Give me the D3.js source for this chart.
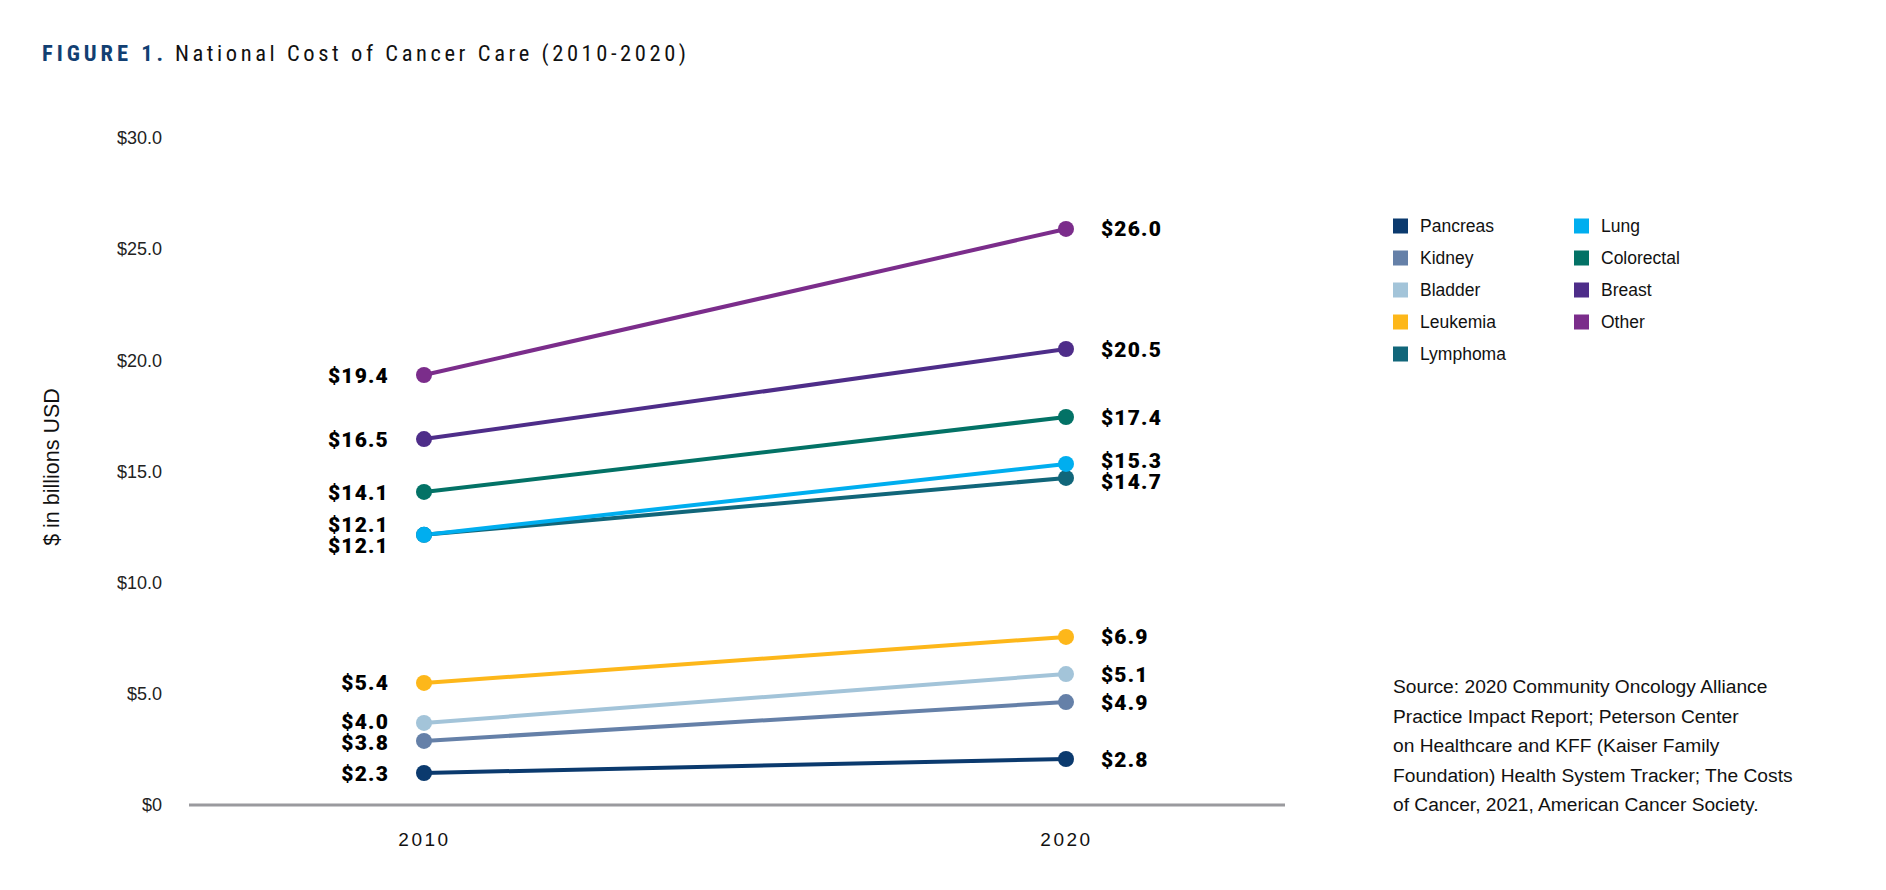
<!DOCTYPE html>
<html>
<head>
<meta charset="utf-8">
<script src="https://cdn.jsdelivr.net/npm/d3@7"></script>
<style>
  body { margin: 0; background: #fff; }
  svg { display: block; }
</style>
</head>
<body>
<div id="chart"></div>
<script>
// data (plotted positions) and the printed labels
const series = ["Pancreas", "Kidney", "Bladder", "Leukemia", "Lymphoma", "Lung", "Colorectal", "Breast", "Other"];
const years = [2010, 2020];
const values2010 = [1.44, 2.88, 3.69, 5.49, 12.15, 12.15, 14.08, 16.46, 19.34];
const values2020 = [2.07, 4.63, 5.89, 7.56, 14.71, 15.34, 17.45, 20.51, 25.91];
const labels2010 = ["$2.3", "$3.8", "$4.0", "$5.4", "$12.1", "$12.1", "$14.1", "$16.5", "$19.4"];
const labels2020 = ["$2.8", "$4.9", "$5.1", "$6.9", "$14.7", "$15.3", "$17.4", "$20.5", "$26.0"];
const colors = ["#0b3a6e", "#6580a8", "#a3c4d9", "#fdb71a", "#11667a", "#00aeef", "#037266", "#4e2d89", "#7b2d8b"];
const yTicks = [0, 5, 10, 15, 20, 25, 30];
const sourceLines = [
    "Source: 2020 Community Oncology Alliance",
    "Practice Impact Report; Peterson Center",
    "on Healthcare and KFF (Kaiser Family",
    "Foundation) Health System Tracker; The Costs",
    "of Cancer, 2021, American Cancer Society."
];

const W = 1886, H = 890;
const svg = d3.select("#chart").append("svg")
    .attr("width", W)
    .attr("height", H);

svg.append("rect").attr("width", W).attr("height", H).attr("fill", "#fff");

// title
const narrow = "'Liberation Sans Narrow', 'Roboto Condensed', 'Liberation Sans', sans-serif";
svg.append("text")
    .attr("x", 42)
    .attr("y", 61)
    .attr("font-size", 22.5)
    .attr("font-family", narrow)
    .attr("font-weight", "bold")
    .attr("fill", "#123f72")
    .attr("textLength", 121)
    .attr("lengthAdjust", "spacing")
    .text("FIGURE 1.");
svg.append("text")
    .attr("x", 175)
    .attr("y", 61)
    .attr("font-size", 22.5)
    .attr("font-family", narrow)
    .attr("fill", "#111")
    .attr("textLength", 511)
    .attr("lengthAdjust", "spacing")
    .text("National Cost of Cancer Care (2010-2020)");

const x = d3.scaleLinear().domain([2010, 2020]).range([424, 1066]);
const y = d3.scaleLinear().domain([0, 30]).range([805, 138]);

// y axis labels
const yAxis = svg.append("g")
    .attr("transform", "translate(162,0)")
    .call(d3.axisLeft(y).tickValues(yTicks).tickSize(0).tickPadding(0)
        .tickFormat(d => d === 0 ? "$0" : "$" + d.toFixed(1)));
yAxis.select(".domain").remove();
yAxis.selectAll("text")
    .attr("font-family", "'Liberation Sans', Arial, sans-serif")
    .attr("font-size", 18)
    .attr("fill", "#222");

svg.append("text")
    .attr("transform", "translate(59,467) rotate(-90)")
    .attr("text-anchor", "middle")
    .attr("font-family", "'Liberation Sans', Arial, sans-serif")
    .attr("font-size", 21.5)
    .attr("fill", "#111")
    .text("$ in billions USD");

// x axis
svg.append("line")
    .attr("x1", 189).attr("x2", 1285)
    .attr("y1", y(0)).attr("y2", y(0))
    .attr("stroke", "#9a9a9e")
    .attr("stroke-width", 3);

const xAxis = svg.append("g")
    .attr("transform", "translate(0," + (y(0) + 27) + ")")
    .call(d3.axisBottom(x).tickValues(years).tickSize(0).tickPadding(0).tickFormat(d3.format("d")));
xAxis.select(".domain").remove();
xAxis.selectAll("text")
    .attr("font-family", "'Liberation Sans', Arial, sans-serif")
    .attr("font-size", 19)
    .attr("letter-spacing", 2.5)
    .attr("fill", "#111");

// lines and points
const rows = series.map((s, i) => ({
    name: s, color: colors[i],
    pts: [{year: 2010, v: values2010[i], label: labels2010[i]}, {year: 2020, v: values2020[i], label: labels2020[i]}]
}));

const line = d3.line().x(d => x(d.year)).y(d => y(d.v));

svg.append("g").selectAll("path")
    .data(rows)
    .join("path")
    .attr("d", d => line(d.pts))
    .attr("fill", "none")
    .attr("stroke", d => d.color)
    .attr("stroke-width", 4);

svg.append("g").selectAll("circle")
    .data(rows.flatMap(r => r.pts.map(p => ({...p, color: r.color}))))
    .join("circle")
    .attr("cx", d => x(d.year))
    .attr("cy", d => y(d.v))
    .attr("r", 8)
    .attr("fill", d => d.color);

// value labels, pushed apart where they collide
function placeLabels(idx) {
    const other = 1 - idx;
    const items = rows.map(r => ({label: r.pts[idx].label, v: r.pts[idx].v, o: r.pts[other].v}));
    items.sort((a, b) => (b.v - a.v) || (b.o - a.o));
    items.forEach(d => d.ly = y(d.v));
    const gap = 21;
    for (let k = 0; k < 60; k++) {
        for (let i = 1; i < items.length; i++) {
            const dd = items[i].ly - items[i - 1].ly;
            if (dd < gap) {
                const push = (gap - dd) / 2;
                items[i - 1].ly -= push;
                items[i].ly += push;
            }
        }
    }
    return items;
}

const labelFont = "Roboto, 'Liberation Sans', sans-serif";
svg.append("g").selectAll("text")
    .data(placeLabels(0))
    .join("text")
    .attr("x", x(2010) - 35)
    .attr("y", d => d.ly)
    .attr("dy", "0.36em")
    .attr("text-anchor", "end")
    .attr("font-family", labelFont)
    .attr("font-weight", 900)
    .attr("font-size", 21)
    .attr("letter-spacing", 1.2)
    .attr("fill", "#000")
    .text(d => d.label);

svg.append("g").selectAll("text")
    .data(placeLabels(1))
    .join("text")
    .attr("x", x(2020) + 35)
    .attr("y", d => d.ly)
    .attr("dy", "0.36em")
    .attr("font-family", labelFont)
    .attr("font-weight", 900)
    .attr("font-size", 21)
    .attr("letter-spacing", 1.2)
    .attr("fill", "#000")
    .text(d => d.label);

// legend: two columns, five rows in the first
const legend = svg.append("g");
const leg = legend.selectAll("g")
    .data(series)
    .join("g")
    .attr("transform", (d, i) => "translate(" + (i < 5 ? 1393 : 1574) + "," + (226 + (i % 5) * 32) + ")");
leg.append("rect")
    .attr("x", 0).attr("y", -7.5)
    .attr("width", 15).attr("height", 15)
    .attr("fill", (d, i) => colors[i]);
leg.append("text")
    .attr("x", 27)
    .attr("dy", "0.36em")
    .attr("font-family", "'Liberation Sans', Arial, sans-serif")
    .attr("font-size", 17.5)
    .attr("fill", "#111")
    .text(d => d);

// source note
svg.append("g").selectAll("text")
    .data(sourceLines)
    .join("text")
    .attr("x", 1393)
    .attr("y", (d, i) => 686 + i * 29.6)
    .attr("dy", "0.36em")
    .attr("font-family", "'Liberation Sans', Arial, sans-serif")
    .attr("font-size", 19.2)
    .attr("fill", "#111")
    .text(d => d);
</script>
</body>
</html>
